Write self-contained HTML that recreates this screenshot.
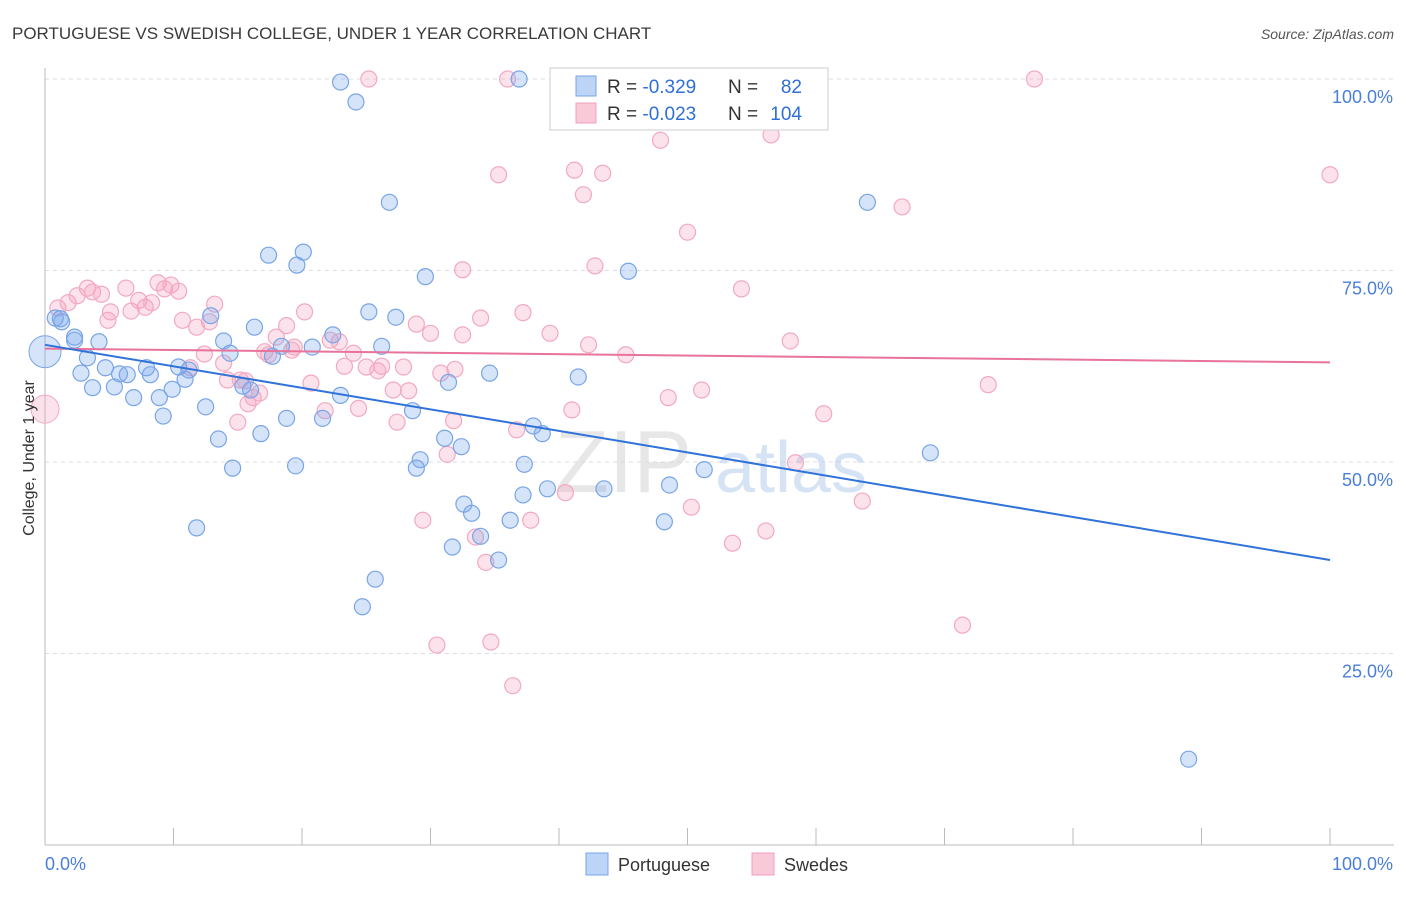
<!DOCTYPE html>
<html><head><meta charset="utf-8"><style>
body{margin:0;background:#fff;font-family:"Liberation Sans",sans-serif;}
svg text{font-family:"Liberation Sans",sans-serif;}
</style></head><body>
<svg id="chart" width="1406" height="892" xmlns="http://www.w3.org/2000/svg">
<text x="12" y="39" font-size="17" fill="#3a3a3a">PORTUGUESE VS SWEDISH COLLEGE, UNDER 1 YEAR CORRELATION CHART</text>
<text x="1394" y="39" font-size="14" fill="#555" font-style="italic" text-anchor="end">Source: ZipAtlas.com</text>
<g id="grid"></g>
<text x="555" y="492" font-size="88" fill="#d8d8d8" opacity="0.6" font-family="Liberation Serif">ZIP</text>
<text x="715" y="492" font-size="72" fill="#bcd2ee" opacity="0.6">atlas</text>
<g id="pts"></g>
<g id="lines"></g>
<text transform="translate(34,458) rotate(-90)" font-size="16" fill="#333" text-anchor="middle">College, Under 1 year</text>
<g>
<rect x="550" y="68" width="278" height="62" fill="#fff" stroke="#ccc"/>
<rect x="576" y="76" width="20" height="20" fill="#bcd4f5" stroke="#7aa6e6"/>
<rect x="576" y="103" width="20" height="20" fill="#f9c9d8" stroke="#f0a0bc"/>
<text x="607" y="93" font-size="19" fill="#333">R = <tspan fill="#2f6fd6">-0.329</tspan></text>
<text x="728" y="93" font-size="19" fill="#333">N =</text><text x="802" y="93" font-size="19" fill="#2f6fd6" text-anchor="end">82</text>
<text x="607" y="120" font-size="19" fill="#333">R = <tspan fill="#2f6fd6">-0.023</tspan></text>
<text x="728" y="120" font-size="19" fill="#333">N =</text><text x="802" y="120" font-size="19" fill="#2f6fd6" text-anchor="end">104</text>
</g>
<g>
<rect x="586" y="853" width="22" height="22" fill="#bcd4f5" stroke="#7aa6e6"/>
<text x="618" y="871" font-size="18" fill="#333">Portuguese</text>
<rect x="752" y="853" width="22" height="22" fill="#f9c9d8" stroke="#f0a0bc"/>
<text x="784" y="871" font-size="18" fill="#333">Swedes</text>
</g>
</svg>
<script>
const blueX=[23.0,24.2,36.9,26.8,64.0,17.4,20.1,19.6,29.6,45.4,0.8,1.3,2.3,4.2,3.3,4.7,2.8,3.7,5.4,5.8,6.4,6.9,7.9,8.2,9.2,8.9,9.9,10.4,10.9,11.2,12.5,12.9,13.9,14.4,13.5,14.6,11.8,15.4,16.0,16.3,16.8,17.7,18.4,18.8,19.5,20.8,21.6,22.4,23.0,25.2,26.2,27.3,28.6,29.2,28.9,31.1,31.4,32.4,32.6,33.2,31.7,33.9,34.6,35.3,36.2,37.2,38.0,38.7,37.3,39.1,41.5,43.5,48.6,48.2,51.3,68.9,89.0,25.7,24.7,1.2,2.3];
const blueY=[99.6,97.0,100,83.9,83.9,77.0,77.4,75.7,74.2,74.9,68.8,68.3,66.3,65.7,63.6,62.3,61.6,59.7,59.8,61.5,61.4,58.4,62.3,61.4,56.0,58.4,59.5,62.4,60.8,62.0,57.2,69.1,65.8,64.2,53.0,49.2,41.4,59.9,59.4,67.6,53.7,63.8,65.1,55.7,49.5,65.0,55.7,66.6,58.7,69.6,65.1,68.9,56.7,50.3,49.2,53.1,60.4,52.0,44.5,43.3,38.9,40.3,61.6,37.2,42.4,45.7,54.7,53.7,49.7,46.5,61.1,46.5,47.0,42.2,49.0,51.2,11.2,34.7,31.1,68.7,65.9];
const pinkX=[25.2,36.0,46.7,77.0,47.9,56.5,35.3,41.2,43.4,41.9,100,66.7,50.0,32.5,42.8,54.2,1.0,1.8,2.5,3.3,3.7,4.4,4.9,5.1,6.3,6.7,7.3,7.8,8.3,8.8,9.3,9.8,10.4,10.7,11.8,12.8,13.2,11.3,12.4,13.9,14.2,15.0,15.6,15.8,16.2,16.7,17.4,18.0,18.8,19.4,20.2,20.7,21.8,22.2,22.9,23.3,24.0,24.4,25.0,25.9,26.2,27.1,27.4,27.9,28.3,28.9,30.0,30.8,31.3,31.9,32.5,33.5,33.9,34.3,34.7,36.4,36.7,37.2,37.8,39.3,40.5,41.0,42.3,45.2,48.5,50.3,51.1,53.5,56.1,58.0,58.4,60.6,63.6,71.4,73.4,30.5,29.4,31.8,15.2,17.1,19.2];
const pinkY=[100,100,100,100,92.0,92.7,87.5,88.1,87.7,84.9,87.5,83.3,80.0,75.1,75.6,72.6,70.1,70.8,71.7,72.7,72.2,71.9,68.5,69.6,72.7,69.7,71.1,70.2,70.8,73.4,72.6,73.1,72.3,68.5,67.6,68.3,70.6,62.3,64.1,62.9,60.7,55.2,60.6,57.6,58.4,59.0,64.0,66.3,67.8,65.0,69.6,60.3,56.7,65.9,65.7,62.5,64.2,57.0,62.4,61.9,62.5,59.4,55.2,62.4,59.3,68.0,66.8,61.6,51.0,62.1,66.6,40.2,68.8,36.9,26.5,20.8,54.2,69.5,42.4,66.8,46.0,56.8,65.3,64.0,58.4,44.1,59.4,39.4,41.0,65.8,49.9,56.3,44.9,28.7,60.1,26.1,42.4,55.4,60.7,64.4,64.6];
const bigBlue=[0,64.4], bigPink=[0,56.9];
const trendBlue=[65.3,37.2], trendPink=[64.8,63.0];
const yTicks=[100,75,50,25];
const yTickLabels=["100.0%","75.0%","50.0%","25.0%"];
const xTickLabels=["0.0%","100.0%"];
const NS="http://www.w3.org/2000/svg";
const X=v=>45+v*12.85, Y=v=>845-v*7.66;
function mk(p,t,a){const e=document.createElementNS(NS,t);for(const k in a)e.setAttribute(k,a[k]);p.appendChild(e);return e;}
const grid=document.getElementById('grid');
yTicks.forEach((t,i)=>{
 const l=mk(grid,'line',{x1:45,x2:1394,y1:Y(t),y2:Y(t),stroke:'#ddd','stroke-dasharray':'4,4'});
 
 
 const tx=mk(grid,'text',{x:1393,y:Y(t)+24,'font-size':18,fill:'#4a7fd8','text-anchor':'end'});
 tx.textContent=yTickLabels[i];
 
 
});
const ax=mk(grid,'line',{x1:45,x2:1394,y1:845,y2:845,stroke:'#bbb'});


const ay=mk(grid,'line',{x1:45,x2:45,y1:68,y2:845,stroke:'#bbb'});


for(let i=0;i<=10;i++){
 const t=mk(grid,'line',{x1:X(i*10),x2:X(i*10),y1:828,y2:845,stroke:'#bbb'});
 
 
}
[[0,'start',45],[100,'end',1393]].forEach((d,i)=>{
 const tx=mk(grid,'text',{x:d[2],y:870,'font-size':18,fill:'#4a7fd8','text-anchor':d[1]});
 tx.textContent=xTickLabels[i];
 
 
});
const pts=document.getElementById('pts');
pinkX.forEach((x,i)=>{
 const c=mk(pts,'circle',{cx:X(x),cy:Y(pinkY[i]),r:8,fill:'rgba(244,160,190,0.3)',stroke:'#f2a9c2','stroke-width':1.2});
 
 
});
blueX.forEach((x,i)=>{
 const c=mk(pts,'circle',{cx:X(x),cy:Y(blueY[i]),r:8,fill:'rgba(120,165,235,0.3)',stroke:'#79a5e6','stroke-width':1.2});
 
 
});
const bp=mk(pts,'circle',{cx:X(bigPink[0]),cy:Y(bigPink[1]),r:14,fill:'rgba(244,160,190,0.3)',stroke:'#f2a9c2'});


const bb=mk(pts,'circle',{cx:X(bigBlue[0]),cy:Y(bigBlue[1]),r:16,fill:'rgba(120,165,235,0.3)',stroke:'#79a5e6'});


const lines=document.getElementById('lines');
const lp=mk(lines,'line',{x1:X(0),y1:Y(trendPink[0]),x2:X(100),y2:Y(trendPink[1]),stroke:'#e8739b','stroke-width':2});


const lb=mk(lines,'line',{x1:X(0),y1:Y(trendBlue[0]),x2:X(100),y2:Y(trendBlue[1]),stroke:'#2f72d9','stroke-width':2});


</script>
</body></html>
